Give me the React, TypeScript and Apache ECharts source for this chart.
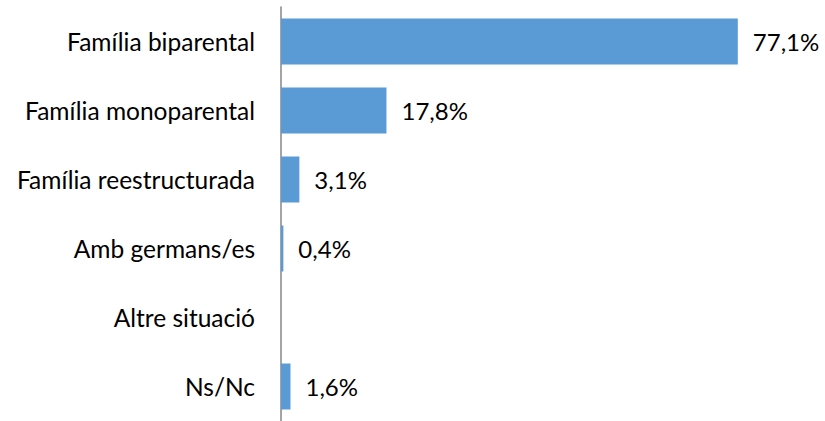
import React, { useEffect, useRef } from "react";
import * as echarts from "echarts";

const categories = [
  "Família biparental",
  "Família monoparental",
  "Família reestructurada",
  "Amb germans/es",
  "Altre situació",
  "Ns/Nc",
];
const values: (number | null)[] = [77.1, 17.8, 3.1, 0.4, null, 1.6];

export default function App() {
  const ref = useRef<HTMLDivElement>(null);
  useEffect(() => {
    if (!ref.current) return;
    const chart = echarts.init(ref.current, null, { renderer: "svg" });
    chart.setOption({
      animation: false,
      grid: { left: 281, right: 70, top: 7, bottom: -4, containLabel: false },
      xAxis: {
        type: "value",
        min: 0,
        max: 80,
        show: false,
        splitLine: { show: false },
      },
      yAxis: {
        type: "category",
        data: categories,
        inverse: true,
        axisLine: { show: true, lineStyle: { color: "#868686", width: 1.5 } },
        axisTick: { show: false },
        axisLabel: {
          color: "#000",
          fontSize: 24.5,
          fontFamily: "Lato",
          margin: 26,
        },
      },
      series: [
        {
          type: "bar",
          data: values,
          barWidth: 46,
          itemStyle: { color: "#5B9BD5" },
          label: {
            show: true,
            position: "right",
            distance: 15,
            color: "#000",
            fontSize: 24,
            fontFamily: "Lato",
            formatter: (p: any) =>
              p.value == null ? "" : p.value.toFixed(1).replace(".", ",") + "%",
          },
        },
      ],
    });
    return () => chart.dispose();
  }, []);
  return (
    <div
      ref={ref}
      style={{ width: 825, height: 421, position: "absolute", left: 0, top: 0 }}
    />
  );
}
